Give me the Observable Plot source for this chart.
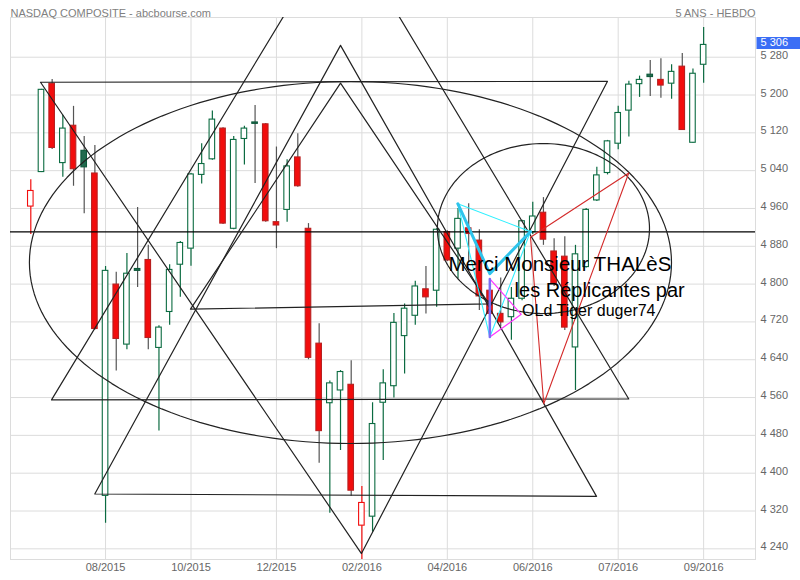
<!DOCTYPE html>
<html><head><meta charset="utf-8">
<script src="https://cdn.jsdelivr.net/npm/d3@7"></script>
<script src="https://cdn.jsdelivr.net/npm/@observablehq/plot@0.6"></script>
<style>body{margin:0;background:#fff;} #chart{width:800px;height:580px;}</style>
</head><body><div id="chart"></div>
<script>
// ---------- DATA ----------
const titleText = "NASDAQ COMPOSITE - abcbourse.com";
const periodText = "5 ANS - HEBDO";

// weekly candles (index 0..63)
const opens  = [4964,5037,5224,5056,5135,5082,5034,4352,4799,4672,4832,4851,4665,4741,4841,4875,5031,5064,5129,4917,5107,5142,5138,4931,4957,5068,4917,4674,4548,4575,4587,4289,4308,4549,4584,4690,4733,4789,4786,4910,4875,4918,4892,4786,4737,4730,4769,4910,4951,4869,4858,4666,4836,4977,5035,5097,5167,5223,5243,5232,5224,5260,5099,5264];
const highs  = [5021,5212,5233,5157,5176,5112,5093,4837,4825,4865,4962,4882,4712,4841,4890,5034,5097,5166,5131,5112,5134,5178,5140,5090,5063,5118,4928,4716,4595,4617,4638,4372,4549,4619,4738,4758,4806,4837,4917,4913,4960,4970,4915,4800,4813,4793,4935,4973,4983,4896,4900,4882,4960,5047,5104,5176,5229,5240,5273,5277,5264,5288,5255,5343];
const lows   = [4905,5036,5085,5026,5007,4949,4703,4294,4616,4661,4793,4661,4489,4713,4772,4838,5012,5062,4926,4915,5052,5013,4931,4875,4931,5005,4640,4421,4315,4448,4351,4217,4275,4427,4559,4610,4713,4737,4751,4848,4811,4845,4744,4730,4709,4681,4765,4905,4882,4795,4702,4575,4834,4975,5031,5084,5111,5195,5197,5193,5191,5125,5098,5225];
const closes = [4997,5211,5088,5129,5043,5047,4705,4828,4684,4822,4828,4686,4708,4830,4887,5032,5054,5148,4928,5105,5129,5139,4933,4924,5049,5007,4644,4489,4590,4614,4363,4337,4504,4590,4718,4748,4795,4772,4915,4850,4938,4906,4774,4737,4719,4769,4933,4943,4894,4801,4708,4863,4957,5030,5102,5162,5222,5232,5238,5220,5249,5126,5245,5306];
const prevClose0 = 5030; // close of the week before the first candle

const xTickIdx    = [7,15,23,31,39,47,55,63];
const xTickLabels = ["08/2015","10/2015","12/2015","02/2016","04/2016","06/2016","07/2016","09/2016"];
const yTicks = [4240,4320,4400,4480,4560,4640,4720,4800,4880,4960,5040,5120,5200,5280];

// hand-drawn annotations, in data units: [week index, value]
const hLineValue = 4910.6;
const triangleDown1 = [[0.91,5227],[54.0,5229],[30.96,4230]];
const triangleUpBig = [[1.94,4555],[29.09,5569],[55.99,4557]];
const triangleUp1   = [[5.99,4356],[29.0,5305],[52.97,4351]];
const triangleUp3   = [[14.95,4747],[29.0,5225],[42.9,4758]];
const ellipseBig   = {cx:29.93, cy:4845.7, rx:30.06, ry:382.9};
const ellipseSmall = {cx:48.0,  cy:4917.6, rx:9.93,  ry:179.8};
const cyanThick = [[39.98,4970],[42.98,4822],[46.79,4911]];
const cyanThin  = [[46.79,4911],[39.98,4970],[42.98,4688],[46.79,4911]];
const magenta   = [[42.98,4811],[45.92,4736],[42.98,4688]];
const violet    = [[42.98,4811],[42.98,4688]];
const redTri    = [[46.79,4899],[55.99,5035],[48.03,4547]];
const notes = [
  {x:39.1, y:4841, text:"Merci Monsieur THALèS", size:20.5},
  {x:45.3, y:4786, text:"les Réplicantes par", size:20},
  {x:46.0, y:4744, text:"OLd Tiger duger74", size:16}
];

// ---------- BUILD ----------
const W = 800, H = 580;
const mL = 10, mR = 45, mT = 17, mB = 21;
const pxPerWeek = 10.68, firstPx = 30.3;
const xDomain = [(mL - firstPx)/pxPerWeek, (W - mR - firstPx)/pxPerWeek];
const yDomain = [4217.4, 5364];

const GREEN = "#0b6b41", DKGREEN = "#236a4e", DKGREEN_E = "#0d5a3b", RED = "#f20d0d", RED_E = "#b82020", WICK = "#555";

const candles = opens.map((o,i)=>{
  const c = closes[i], prev = i ? closes[i-1] : prevClose0;
  const hollow = c > o, up = c >= prev;
  return {i, o, h:highs[i], l:lows[i], c, hollow, up,
    fill: hollow ? "#fff" : (up ? DKGREEN : RED),
    stroke: hollow ? (up ? GREEN : RED) : (up ? DKGREEN_E : RED_E),
    wick: hollow ? (up ? GREEN : RED) : WICK};
});

const toPts = (arr, id, close) => {
  const a = arr.map(([x,y])=>({x,y,id}));
  if (close) a.push({...a[0]});
  return a;
};
const ellipsePts = (e, id) => d3.range(0, 361, 2).map(t => ({
  x: e.cx + e.rx*Math.cos(t*Math.PI/180), y: e.cy + e.ry*Math.sin(t*Math.PI/180), id}));

const blackShapes = [
  ...toPts(triangleDown1,"d1",true),
  ...toPts(triangleUpBig,"tb",true),
  ...toPts(triangleUp1,"t1",true),
  ...toPts(triangleUp3,"t3",true),
  ...ellipsePts(ellipseBig,"e1"),
  ...ellipsePts(ellipseSmall,"e2")
];

const fmt = d => d3.format(",")(d).replace(/,/g," ");
const labelOf = new Map(xTickIdx.map((d,k)=>[d, xTickLabels[k]]));
const lastClose = closes[closes.length-1];
const unitPerPx = (xDomain[1]-xDomain[0])/(W-mL-mR);

const chart = Plot.plot({
  width: W, height: H,
  marginLeft: mL, marginRight: mR, marginTop: mT, marginBottom: mB,
  x: {type:"linear", domain: xDomain, axis: null},
  y: {type:"linear", domain: yDomain, axis: null},
  style: {fontFamily: "'Liberation Sans', Arial, sans-serif", background: "#fff", overflow: "visible"},
  marks: [
    Plot.gridY(yTicks, {stroke:"#dcdcdc", strokeOpacity:1}),
    Plot.gridX(xTickIdx, {stroke:"#dcdcdc", strokeOpacity:1}),
    Plot.frame({stroke:"#dcdcdc"}),
    // candles
    Plot.ruleX(candles, {x:"i", y1:"l", y2:"h", stroke: d=>d.wick, strokeWidth:1.2, clip:true}),
    Plot.rect(candles, {x1: d=>d.i-0.26, x2: d=>d.i+0.26, y1:"o", y2:"c", fill: d=>d.fill, stroke: d=>d.stroke, strokeWidth:1.1}),
    // drawings
    Plot.ruleY([hLineValue], {stroke:"#000", strokeWidth:1.2}),
    Plot.line(blackShapes, {x:"x", y:"y", z:"id", stroke:"#222", strokeWidth:1.2, clip:true, curve:"linear"}),
    Plot.line(toPts(redTri,"r",true), {x:"x", y:"y", stroke:"#d42a2a", strokeWidth:1.1}),
    Plot.line(toPts(cyanThin,"c1",false), {x:"x", y:"y", stroke:"#2ff0ff", strokeWidth:1.1}),
    Plot.line(toPts(cyanThick,"c2",false), {x:"x", y:"y", stroke:"#2ec4ec", strokeWidth:3}),
    Plot.line(toPts(magenta,"m",false), {x:"x", y:"y", stroke:"#ff33ff", strokeWidth:1.2}),
    Plot.line(toPts(violet,"v",false), {x:"x", y:"y", stroke:"#7b6cf6", strokeWidth:2.5}),
    Plot.text(notes, {x:"x", y:"y", text:"text", fontSize: d=>d.size, textAnchor:"start", fill:"#000"}),
    // axes labels
    Plot.text(xTickIdx, {x: d=>d, text: d=>labelOf.get(d), frameAnchor:"bottom", dy:11, fill:"#666", fontSize:11}),
    Plot.text(yTicks, {y: d=>d, text: fmt, frameAnchor:"right", textAnchor:"start", dx:5, dy:-2, fill:"#666", fontSize:11}),
    // last price tag
    Plot.ruleY([lastClose], {x1: xDomain[1] + 1.5*unitPerPx, x2: xDomain[1] + (mR)*unitPerPx, stroke:"#3b6ef5", strokeWidth:12, dy:-2}),
    Plot.text([lastClose], {y: d=>d, text: fmt, frameAnchor:"right", textAnchor:"start", dx:5, dy:-2, fill:"#fff", fontSize:11}),
    // titles
    Plot.text([titleText], {frameAnchor:"top-left", textAnchor:"start", dy:-8, fill:"#808080", fontSize:11}),
    Plot.text([periodText], {frameAnchor:"top-right", textAnchor:"end", dy:-8, fill:"#808080", fontSize:11})
  ]
});
document.getElementById("chart").appendChild(chart);
</script>
</body></html>
